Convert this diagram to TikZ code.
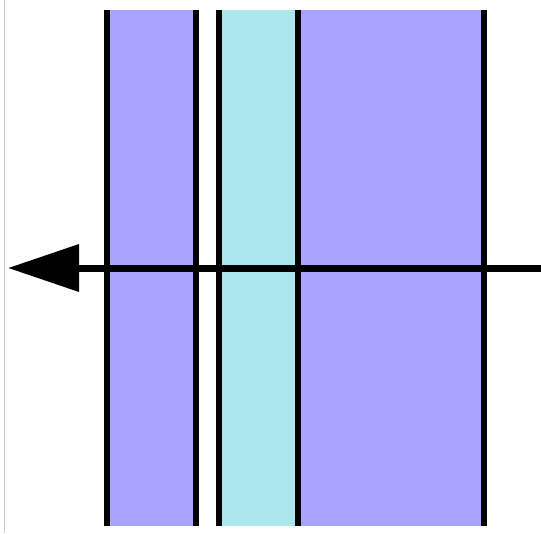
\documentclass[tikz,border=0pt]{standalone}
\usetikzlibrary{arrows.meta}
\definecolor{bandpurple}{HTML}{A8A4FF}
\definecolor{bandcyan}{HTML}{ABE6EC}
\definecolor{edgegrey}{HTML}{C8C8C8}
\tikzset{
  wall/.style={line width=6.5pt, black},
  flow/.style={line width=7pt, black, -{Triangle[length=71pt,width=46pt]}},
}
\begin{document}
\begin{tikzpicture}[x=1pt,y=-1pt]
\useasboundingbox (0,0) rectangle (541,533);
\fill[white] (0,0) rectangle (541,533);
\draw[edgegrey, line width=1.2pt] (4.5,0) -- (4.5,533);
\fill[bandpurple] (107,10) rectangle (196,526);
\fill[bandcyan] (219,10) rectangle (298,526);
\fill[bandpurple] (298,10) rectangle (484,526);
\foreach \x in {107,196,219,298,484}{
  \draw[wall] (\x,10) -- (\x,526);
}
\coordinate (start) at (541,268);
\coordinate (tip) at (8,268);
\draw[flow] (start) -- (tip);
\end{tikzpicture}
\end{document}
